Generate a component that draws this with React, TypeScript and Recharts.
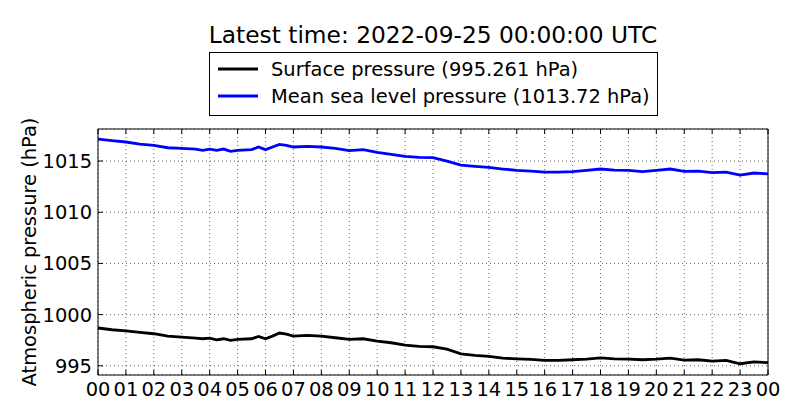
import React from "react";
import {
  LineChart,
  Line,
  XAxis,
  YAxis,
  CartesianGrid,
  Legend,
} from "recharts";

const FONT = "'DejaVu Sans', sans-serif";

// hours since 2022-09-24 00:00 UTC
const HOURS = [
  0, 0.5, 1, 1.5, 2, 2.5, 3, 3.5, 3.75, 4, 4.25, 4.5, 4.75, 5, 5.5, 5.75, 6,
  6.25, 6.5, 6.75, 7, 7.5, 8, 8.5, 9, 9.5, 10, 10.5, 11, 11.5, 12, 12.5, 13,
  13.5, 14, 14.5, 15, 15.5, 16, 16.5, 17, 17.5, 18, 18.5, 19, 19.5, 20, 20.5,
  21, 21.5, 22, 22.5, 23, 23.5, 24,
];

const SURFACE = [
  998.69, 998.52, 998.42, 998.26, 998.13, 997.9, 997.8, 997.71, 997.64, 997.71,
  997.54, 997.64, 997.48, 997.58, 997.64, 997.87, 997.64, 997.9, 998.2, 998.1,
  997.9, 997.97, 997.9, 997.74, 997.58, 997.64, 997.41, 997.25, 997.02, 996.89,
  996.86, 996.63, 996.17, 996.01, 995.91, 995.75, 995.68, 995.62, 995.52,
  995.52, 995.59, 995.65, 995.78, 995.68, 995.65, 995.59, 995.65, 995.75,
  995.55, 995.59, 995.46, 995.52, 995.2, 995.39, 995.3,
];

const MSL = [
  1017.15, 1016.99, 1016.86, 1016.66, 1016.53, 1016.3, 1016.24, 1016.17,
  1016.04, 1016.17, 1016.04, 1016.17, 1015.95, 1016.04, 1016.11, 1016.37,
  1016.11, 1016.37, 1016.63, 1016.53, 1016.37, 1016.44, 1016.37, 1016.24,
  1016.01, 1016.11, 1015.85, 1015.65, 1015.46, 1015.36, 1015.33, 1015.0,
  1014.61, 1014.48, 1014.38, 1014.22, 1014.09, 1014.02, 1013.92, 1013.92,
  1013.96, 1014.09, 1014.22, 1014.12, 1014.09, 1013.96, 1014.09, 1014.22,
  1013.99, 1014.02, 1013.86, 1013.92, 1013.63, 1013.83, 1013.75,
];

const X_TICKS = [
  0, 1, 2, 3, 4, 5, 6, 7, 8, 9, 10, 11, 12, 13, 14, 15, 16, 17, 18, 19, 20,
  21, 22, 23, 24,
];
const Y_TICKS = [995, 1000, 1005, 1010, 1015];

// legend rows, top to bottom
const LEGEND_ORDER = ["surface", "msl"];

const data = HOURS.map((h, i) => ({
  hour: h,
  surface: SURFACE[i],
  msl: MSL[i],
}));

const fmtHour = (h: number) => String(h % 24).padStart(2, "0");

const tickStyle = { fontSize: 19.44, fill: "#000", fontFamily: FONT };
const hideTick = () => <g />;

function PressureLegend(props: any) {
  const items = [...(props.payload || [])].sort(
    (a: any, b: any) =>
      LEGEND_ORDER.indexOf(a.dataKey) - LEGEND_ORDER.indexOf(b.dataKey)
  );
  return (
    <svg width={449} height={65} style={{ display: "block" }}>
      <rect x={0.5} y={0.5} width={448} height={63} fill="#fff" stroke="#000" />
      {items.map((entry: any, i: number) => {
        const cy = 17 + i * 27;
        return (
          <g key={entry.value}>
            <line x1={9} x2={49} y1={cy} y2={cy} stroke={entry.color} strokeWidth={2.8} />
            <text x={62} y={cy + 7} fontSize={19.44} fontFamily={FONT} fill="#000">
              {entry.value}
            </text>
          </g>
        );
      })}
    </svg>
  );
}

export default function App() {
  return (
    <div style={{ position: "absolute", left: 0, top: 0, width: 800, height: 420, background: "#fff" }}>
      <svg width={800} height={50} style={{ position: "absolute", left: 0, top: 0 }}>
        <text x={433} y={43} textAnchor="middle" fontSize={23.3} fontFamily={FONT} fill="#000">
          Latest time: 2022-09-25 00:00:00 UTC
        </text>
      </svg>
      <LineChart
        width={800}
        height={420}
        data={data}
        margin={{ top: 128, right: 31, bottom: 0, left: 0 }}
      >
        <CartesianGrid stroke="#000" strokeWidth={0.6} strokeDasharray="1 3" />
        <XAxis
          dataKey="hour"
          type="number"
          domain={[0, 24]}
          ticks={X_TICKS}
          tickFormatter={fmtHour}
          interval={0}
          height={45}
          tickSize={-5}
          tickMargin={12}
          tick={tickStyle}
          stroke="#000"
          allowDataOverflow
        />
        <XAxis
          xAxisId="top"
          orientation="top"
          dataKey="hour"
          type="number"
          domain={[0, 24]}
          ticks={X_TICKS}
          interval={0}
          height={1}
          tickSize={-5}
          tick={hideTick}
          stroke="#000"
        />
        <YAxis
          type="number"
          domain={[994.1, 1018.13]}
          ticks={Y_TICKS}
          interval={0}
          width={98}
          tickSize={-5}
          tickMargin={11}
          tick={tickStyle}
          stroke="#000"
          allowDataOverflow
          label={() => (
            <text
              transform="translate(36,252) rotate(-90)"
              textAnchor="middle"
              fontSize={19.44}
              fontFamily={FONT}
              fill="#000"
            >
              Atmospheric pressure (hPa)
            </text>
          )}
        />
        <YAxis
          yAxisId="right"
          orientation="right"
          type="number"
          domain={[994.1, 1018.13]}
          ticks={Y_TICKS}
          interval={0}
          width={1}
          tickSize={-5}
          tick={hideTick}
          stroke="#000"
        />
        <Legend
          layout="horizontal"
          verticalAlign="middle"
          align="center"
          content={<PressureLegend />}
          wrapperStyle={{ top: 52, left: 209, width: 449, height: 65 }}
        />
        <Line
          type="linear"
          dataKey="surface"
          name="Surface pressure (995.261 hPa)"
          stroke="#000000"
          strokeWidth={2.8}
          dot={false}
          activeDot={false}
          isAnimationActive={false}
        />
        <Line
          type="linear"
          dataKey="msl"
          name="Mean sea level pressure (1013.72 hPa)"
          stroke="#0000ff"
          strokeWidth={2.8}
          dot={false}
          activeDot={false}
          isAnimationActive={false}
        />
      </LineChart>
    </div>
  );
}
